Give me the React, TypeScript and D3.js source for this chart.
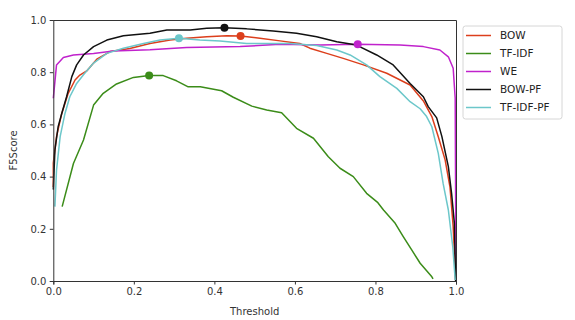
import React, { useEffect, useRef } from "react";
import { select, scaleLinear, axisBottom, axisLeft, axisTop, axisRight, line, format } from "d3";

// points: [threshold, f5score]
const bow: [number, number][] = [
  [0, 0.36], [0, 0.452], [0.008, 0.553], [0.021, 0.642], [0.037, 0.719], [0.054, 0.77], [0.066, 0.789],
  [0.083, 0.805], [0.108, 0.85], [0.141, 0.879], [0.19, 0.891], [0.24, 0.91], [0.29, 0.923],
  [0.331, 0.93], [0.381, 0.936], [0.431, 0.94], [0.465, 0.939], [0.513, 0.93], [0.563, 0.92],
  [0.612, 0.91], [0.637, 0.892], [0.679, 0.872], [0.72, 0.853], [0.77, 0.828], [0.828, 0.796],
  [0.886, 0.751], [0.919, 0.69], [0.94, 0.63], [0.956, 0.553], [0.973, 0.464], [0.985, 0.361],
  [0.993, 0.208], [0.999, 0.004],
];
const tfidf: [number, number][] = [
  [0.022, 0.285], [0.05, 0.45], [0.075, 0.54], [0.1, 0.674], [0.124, 0.719], [0.157, 0.755],
  [0.199, 0.78], [0.238, 0.787], [0.273, 0.787], [0.306, 0.767], [0.335, 0.744], [0.365, 0.744],
  [0.418, 0.729], [0.447, 0.704], [0.493, 0.67], [0.53, 0.655], [0.567, 0.645], [0.604, 0.585],
  [0.646, 0.547], [0.683, 0.476], [0.712, 0.432], [0.745, 0.4], [0.778, 0.336], [0.806, 0.3],
  [0.82, 0.272], [0.849, 0.221], [0.869, 0.17], [0.89, 0.119], [0.911, 0.068], [0.94, 0.016],
  [0.943, 0.008],
];
const we: [number, number][] = [
  [0, 0.7], [0.004, 0.764], [0.008, 0.828], [0.025, 0.856], [0.05, 0.866], [0.1, 0.872],
  [0.149, 0.881], [0.24, 0.886], [0.331, 0.895], [0.464, 0.898], [0.563, 0.907], [0.662, 0.904],
  [0.756, 0.907], [0.861, 0.904], [0.919, 0.898], [0.96, 0.885], [0.981, 0.859], [0.993, 0.815],
  [0.998, 0.7], [1.0, 0.0],
];
const bowPf: [number, number][] = [
  [0, 0.35], [0.004, 0.502], [0.012, 0.591], [0.021, 0.642], [0.033, 0.706], [0.046, 0.783],
  [0.058, 0.828], [0.075, 0.866], [0.1, 0.898], [0.133, 0.923], [0.174, 0.94], [0.24, 0.949],
  [0.282, 0.962], [0.34, 0.962], [0.381, 0.968], [0.425, 0.97], [0.48, 0.966], [0.546, 0.958],
  [0.604, 0.949], [0.654, 0.936], [0.704, 0.917], [0.753, 0.904], [0.803, 0.866], [0.844, 0.828],
  [0.886, 0.757], [0.919, 0.706], [0.931, 0.668], [0.952, 0.625], [0.965, 0.553], [0.981, 0.438],
  [0.989, 0.336], [0.996, 0.221], [0.999, 0.0],
];
const tfidfPf: [number, number][] = [
  [0.004, 0.285], [0.008, 0.425], [0.017, 0.553], [0.029, 0.642], [0.041, 0.706], [0.058, 0.757],
  [0.075, 0.79], [0.1, 0.835], [0.133, 0.872], [0.174, 0.892], [0.224, 0.91], [0.265, 0.923],
  [0.312, 0.93], [0.364, 0.923], [0.414, 0.92], [0.48, 0.91], [0.53, 0.91], [0.588, 0.91],
  [0.654, 0.902], [0.704, 0.885], [0.737, 0.866], [0.778, 0.828], [0.811, 0.783], [0.853, 0.738],
  [0.886, 0.687], [0.911, 0.66], [0.927, 0.63], [0.94, 0.591], [0.956, 0.489], [0.968, 0.374],
  [0.981, 0.272], [0.992, 0.131], [0.998, 0.004],
];

const names = ["BOW", "TF-IDF", "WE", "BOW-PF", "TF-IDF-PF"];
const colors = ["#dc3f1c", "#3b8c19", "#c022cc", "#111111", "#6cc7ca"];
// the best point of each curve
const bestX = [0.465, 0.238, 0.756, 0.425, 0.312];
const bestY = [0.939, 0.787, 0.907, 0.97, 0.93];
const ticks = [0, 0.2, 0.4, 0.6, 0.8, 1.0];

function LineChart() {
  const svgRef = useRef<SVGSVGElement>(null);

  useEffect(() => {
    const svg = select(svgRef.current);
    svg.selectAll("*").remove();
    const series = [bow, tfidf, we, bowPf, tfidfPf];

    const left = 53.3, right = 456, top = 20, bottom = 281;
    const x = scaleLinear().domain([0, 1]).range([left, right]);
    const y = scaleLinear().domain([0, 1]).range([bottom, top]);

    const font = "DejaVu Sans, sans-serif";

    const plot = svg.append("g");
    const path = line<[number, number]>()
      .x((d) => x(d[0]))
      .y((d) => y(d[1]));

    plot
      .selectAll(".series")
      .data(series)
      .join("path")
      .attr("class", "series")
      .attr("d", (d) => path(d))
      .attr("fill", "none")
      .attr("stroke", (_, i) => colors[i])
      .attr("stroke-width", 1.5)
      .attr("stroke-linejoin", "round");

    plot
      .selectAll(".best")
      .data(names)
      .join("circle")
      .attr("class", "best")
      .attr("cx", (_, i) => x(bestX[i]))
      .attr("cy", (_, i) => y(bestY[i]))
      .attr("r", 4)
      .attr("fill", (_, i) => colors[i]);

    // axes
    const fmt = format(".1f");
    const xAxis = svg
      .append("g")
      .attr("transform", `translate(0, ${bottom})`)
      .call(axisBottom(x).tickValues(ticks).tickFormat(fmt as any).tickSize(3.5).tickPadding(3.5));
    const yAxis = svg
      .append("g")
      .attr("transform", `translate(${left}, 0)`)
      .call(axisLeft(y).tickValues(ticks).tickFormat(fmt as any).tickSize(3.5).tickPadding(3.5));
    svg
      .append("g")
      .attr("transform", `translate(0, ${top})`)
      .call(axisTop(x).tickValues([]).tickSizeOuter(0));
    svg
      .append("g")
      .attr("transform", `translate(${right}, 0)`)
      .call(axisRight(y).tickValues([]).tickSizeOuter(0));

    svg.selectAll(".domain").attr("stroke", "#333").attr("stroke-width", 1);
    svg.selectAll(".tick line").attr("stroke", "#333");
    [xAxis, yAxis].forEach((a) =>
      a.selectAll("text").attr("font-family", font).attr("font-size", 10).attr("fill", "#333")
    );

    svg
      .append("text")
      .attr("x", (left + right) / 2)
      .attr("y", 315)
      .attr("text-anchor", "middle")
      .attr("font-family", font)
      .attr("font-size", 10)
      .attr("fill", "#333")
      .text("Threshold");
    svg
      .append("text")
      .attr("transform", `translate(17, ${(top + bottom) / 2}) rotate(-90)`)
      .attr("text-anchor", "middle")
      .attr("font-family", font)
      .attr("font-size", 10)
      .attr("fill", "#333")
      .text("F5Score");

    // legend
    const legend = svg.append("g").attr("transform", "translate(463, 26)");
    legend
      .append("rect")
      .attr("width", 99)
      .attr("height", 93)
      .attr("rx", 2.5)
      .attr("fill", "white")
      .attr("stroke", "#d6d6d6");
    const rows = legend
      .selectAll(".row")
      .data(names)
      .join("g")
      .attr("class", "row")
      .attr("transform", (_, i) => `translate(0, ${9.5 + i * 18})`);
    rows
      .append("line")
      .attr("x1", 3)
      .attr("x2", 28)
      .attr("stroke", (_, i) => colors[i])
      .attr("stroke-width", 1.5);
    rows
      .append("text")
      .attr("x", 37)
      .attr("dy", "0.35em")
      .attr("font-family", font)
      .attr("font-size", 10.5)
      .attr("fill", "#222")
      .text((d) => d);
  }, []);

  return <svg ref={svgRef} width={575} height={320} style={{ position: "absolute", left: 0, top: 0 }} />;
}

export default function App() {
  return <LineChart />;
}
